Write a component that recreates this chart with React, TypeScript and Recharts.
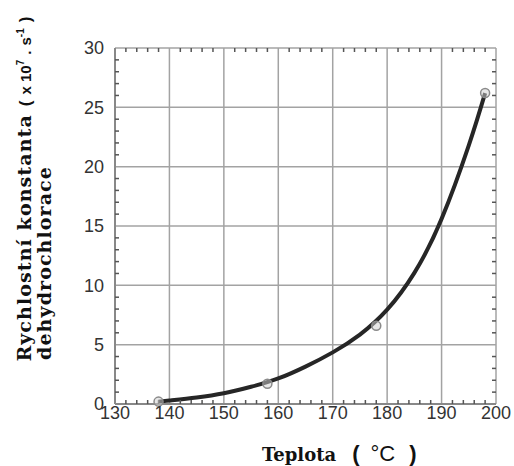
import {
  ComposedChart,
  Line,
  Scatter,
  XAxis,
  YAxis,
  CartesianGrid,
} from 'recharts';

// smooth fitted curve
const curveT = [138, 140, 145, 150, 155, 160, 165, 170, 175, 180, 185, 190, 195, 198];
const curveK = [0.2, 0.3, 0.55, 0.9, 1.45, 2.15, 3.15, 4.35, 5.85, 7.95, 11.05, 15.6, 21.8, 26.2];

// measured points
const pointT = [138, 158, 178, 198];
const pointK = [0.2, 1.7, 6.6, 26.2];

const xMajor = [130, 140, 150, 160, 170, 180, 190, 200];
const yMajor = [0, 5, 10, 15, 20, 25, 30];
const xMinor = [132, 134, 136, 138, 142, 144, 146, 148, 152, 154, 156, 158, 162, 164, 166, 168, 172, 174, 176, 178, 182, 184, 186, 188, 192, 194, 196, 198];
const yMinor = [1, 2, 3, 4, 6, 7, 8, 9, 11, 12, 13, 14, 16, 17, 18, 19, 21, 22, 23, 24, 26, 27, 28, 29];

const curve = curveT.map((t, i) => ({ t, k: curveK[i] }));
const points = pointT.map((t, i) => ({ t, k: pointK[i] }));

// minor tick marks on all four sides, placed through the chart scales
const bottomTicks = xMinor.map((t) => ({ t, k: 0 }));
const topTicks = xMinor.map((t) => ({ t, k: 30 }));
const leftTicks = yMinor.map((k) => ({ t: 130, k }));
const rightTicks = yMinor.map((k) => ({ t: 200, k }));

const SANS = '"Liberation Sans", Arial, sans-serif';
const SERIF = '"DejaVu Serif", serif';
const TICK = '#555';
const TL = 4;

const mark = (dx: number, dy: number) => (p: any) => (
  <line x1={p.cx} y1={p.cy} x2={p.cx + dx} y2={p.cy + dy} stroke={TICK} strokeWidth={1.5} />
);

const YTitle = () => (
  <g>
    <text
      transform="translate(31,189) rotate(-90)"
      textAnchor="middle"
      fontFamily={SERIF}
      fontWeight="bold"
      fontSize={19}
      letterSpacing={1.1}
      fill="#111"
    >
      Rychlostní konstanta
      <tspan fontFamily={SANS} fontSize={17} letterSpacing={0} dx={8}>(</tspan>
      <tspan fontFamily={SANS} fontSize={15} letterSpacing={0} dx={6}>x 10</tspan>
      <tspan fontFamily={SANS} fontSize={10} letterSpacing={0} dy={-7}>7</tspan>
      <tspan fontFamily={SANS} fontSize={15} letterSpacing={0} dy={7} dx={5}>.</tspan>
      <tspan fontFamily={SANS} fontSize={15} letterSpacing={0} dx={5}>s</tspan>
      <tspan fontFamily={SANS} fontSize={10} letterSpacing={0} dy={-7}>-1</tspan>
      <tspan fontFamily={SANS} fontSize={17} letterSpacing={0} dy={7} dx={6}>)</tspan>
    </text>
    <text
      transform="translate(51,263) rotate(-90)"
      textAnchor="middle"
      fontFamily={SERIF}
      fontWeight="bold"
      fontSize={19}
      letterSpacing={1.1}
      fill="#111"
    >
      dehydrochlorace
    </text>
  </g>
);

const XTitle = () => (
  <text x={262} y={461} fontFamily={SERIF} fontWeight="bold" fontSize={18} fill="#111">
    Teplota
    <tspan fontFamily={SANS} fontSize={22} dx={16}>(</tspan>
    <tspan fontFamily={SANS} fontWeight="normal" fontSize={22} dx={11}>°C</tspan>
    <tspan fontFamily={SANS} fontSize={22} dx={14}>)</tspan>
  </text>
);

export default function App() {
  return (
    <div style={{ position: 'absolute', left: 0, top: 0, width: 514, height: 466, background: '#fff' }}>
      <ComposedChart width={514} height={466} margin={{ top: 48, right: 18, bottom: 32, left: 70 }}>
        <CartesianGrid stroke="#a3a3a3" strokeWidth={1.5} />
        <XAxis
          dataKey="t"
          type="number"
          domain={[130, 200]}
          ticks={xMajor}
          interval={0}
          height={30}
          tickSize={0}
          tickMargin={2}
          tickLine={false}
          axisLine={{ stroke: '#888', strokeWidth: 2 }}
          tick={{ fill: '#333', fontSize: 18, fontFamily: SANS }}
          label={{ content: () => <XTitle /> }}
        />
        <YAxis
          type="number"
          domain={[0, 30]}
          ticks={yMajor}
          interval={0}
          width={45}
          tickSize={0}
          tickMargin={11}
          tickLine={false}
          axisLine={{ stroke: '#888', strokeWidth: 2 }}
          tick={{ fill: '#333', fontSize: 18, fontFamily: SANS }}
          label={{ content: () => <YTitle /> }}
        />
        <Scatter data={bottomTicks} dataKey="k" shape={mark(0, -TL)} isAnimationActive={false} />
        <Scatter data={topTicks} dataKey="k" shape={mark(0, TL)} isAnimationActive={false} />
        <Scatter data={leftTicks} dataKey="k" shape={mark(TL, 0)} isAnimationActive={false} />
        <Scatter data={rightTicks} dataKey="k" shape={mark(-TL, 0)} isAnimationActive={false} />
        <Scatter
          data={points}
          dataKey="k"
          fill="#cfcfcf"
          fillOpacity={0.5}
          stroke="#8a8a8a"
          strokeWidth={1.5}
          shape="circle"
          isAnimationActive={false}
        />
        <Line
          data={curve}
          dataKey="k"
          type="natural"
          stroke="#262626"
          strokeWidth={4}
          dot={false}
          activeDot={false}
          isAnimationActive={false}
        />
      </ComposedChart>
    </div>
  );
}
